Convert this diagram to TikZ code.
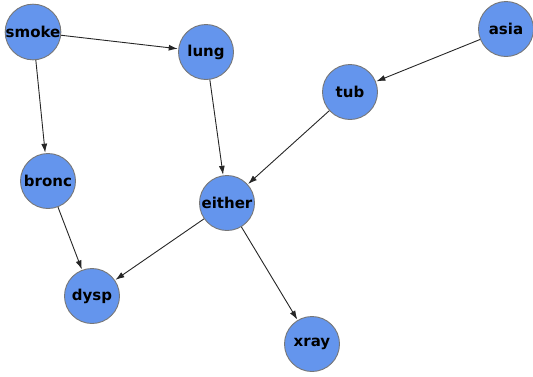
\documentclass[tikz,border=0pt]{standalone}
\usepackage{fontspec}
\setmainfont{DejaVu Sans}
\usetikzlibrary{arrows.meta}
\definecolor{nodefill}{HTML}{6495ED}
\definecolor{nodeline}{HTML}{777777}
\begin{document}
\begin{tikzpicture}[x=1pt,y=-1pt,
  vnode/.style={circle,draw=nodeline,fill=nodefill,line width=0.9pt,minimum size=55pt,inner sep=0pt,font=\fontsize{15}{15}\selectfont\bfseries,text=black},
  edge/.style={draw=black!85,line width=0.9pt,-{Latex[length=9pt,width=6pt]},shorten >=0.5pt}]
\useasboundingbox (0,0) rectangle (533,376);
\node[vnode] (smoke) at (33,32) {smoke};
\node[vnode] (lung) at (206,52) {lung};
\node[vnode] (asia) at (506,29) {asia};
\node[vnode] (tub) at (350,92) {tub};
\node[vnode] (bronc) at (48,181) {bronc};
\node[vnode] (either) at (227,203) {either};
\node[vnode] (dysp) at (92,296) {dysp};
\node[vnode] (xray) at (312,344) {xray};
\draw[edge] (smoke) -- (lung);
\draw[edge] (smoke) -- (bronc);
\draw[edge] (lung) -- (either);
\draw[edge] (asia) -- (tub);
\draw[edge] (tub) -- (either);
\draw[edge] (bronc) -- (dysp);
\draw[edge] (either) -- (dysp);
\draw[edge] (either) -- (xray);
\end{tikzpicture}
\end{document}
